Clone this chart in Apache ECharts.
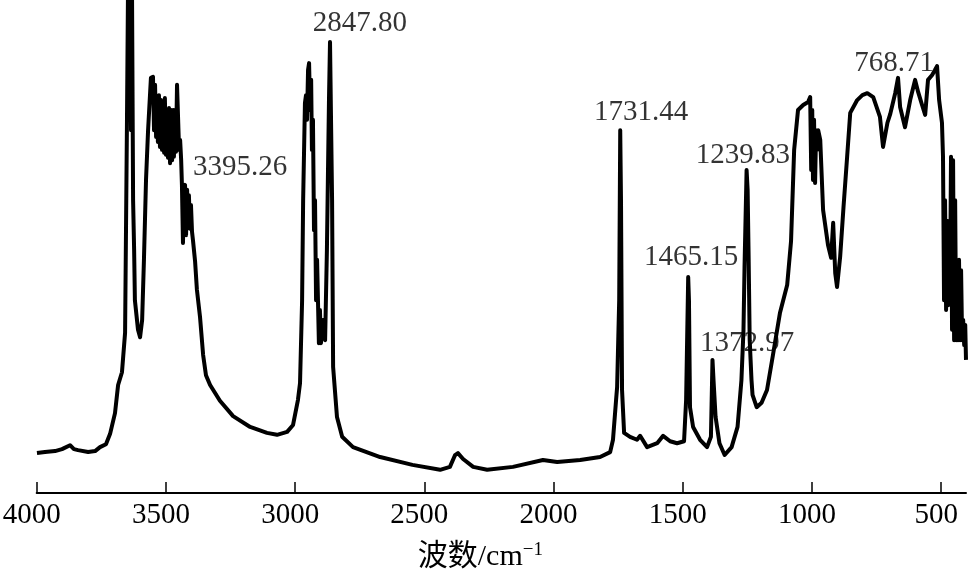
<!DOCTYPE html>
<html>
<head>
<meta charset="utf-8">
<script src="https://cdn.jsdelivr.net/npm/echarts@6/dist/echarts.min.js"></script>
<style>html,body{margin:0;padding:0;background:#fff;}#c{width:968px;height:574px;}</style>
</head>
<body>
<div id="c"></div>
<script>
// IR spectrum: [wavenumber cm^-1, relative signal]
const spectrum = [
[3999,8.1],[3968,8.3],[3929,8.5],[3902,8.9],[3871,9.7],[3856,8.9],[3840,8.7],[3801,8.3],[3774,8.5],[3755,9.3],
[3732,9.9],[3716,12.0],[3697,16.2],[3685,21.9],[3670,24.5],[3658,32.5],[3651,73.6],[3647,100],[3643,75.7],[3639,100],
[3635,73.6],[3631,100],[3627,59.4],[3623,49.3],[3620,39.1],[3608,33.1],[3600,31.6],[3592,35.1],[3585,47.3],[3577,63.5],
[3569,73.6],[3558,84.2],[3550,84.4],[3546,73.6],[3542,82.8],[3538,72.2],[3534,79.7],[3531,71.2],[3527,80.7],[3523,70.2],
[3519,79.7],[3515,69.6],[3511,79.1],[3507,69.0],[3504,80.1],[3500,68.6],[3496,77.7],[3492,68.0],[3488,78.1],[3484,66.9],
[3480,77.7],[3476,67.5],[3472,77.7],[3469,68.2],[3465,77.7],[3461,69.2],[3457,82.8],[3453,82.8],[3449,69.6],[3445,71.6],
[3441,67.5],[3438,62.5],[3434,50.7],[3430,61.5],[3426,62.5],[3422,52.3],[3418,61.5],[3414,54.2],[3411,60.4],[3407,53.6],
[3403,58.4],[3399,53.0],[3395,51.1],[3387,46.9],[3380,41.2],[3368,35.7],[3356,28.0],[3345,23.9],[3329,21.9],[3291,18.7],
[3240,15.6],[3174,13.4],[3109,12.2],[3070,11.8],[3031,12.4],[3008,13.8],[2989,18.9],[2981,22.3],[2973,39.1],[2969,59.4],
[2962,79.1],[2958,80.7],[2954,75.7],[2950,85.8],[2946,87.2],[2942,77.7],[2938,83.8],[2935,69.6],[2931,75.7],[2927,53.3],
[2923,59.4],[2919,39.1],[2915,47.3],[2908,30.4],[2904,37.1],[2900,30.4],[2892,35.1],[2884,31.0],[2877,49.3],[2869,79.7],
[2865,91.5],[2861,91.5],[2857,59.4],[2853,25.6],[2838,15.4],[2818,11.4],[2776,9.3],[2671,7.3],[2546,5.7],[2439,4.7],
[2401,5.3],[2381,7.7],[2370,8.1],[2350,6.9],[2311,5.3],[2257,4.7],[2157,5.3],[2041,6.7],[1986,6.3],[1897,6.7],
[1820,7.3],[1781,8.3],[1770,10.8],[1758,18.9],[1754,21.5],[1746,39.1],[1742,73.6],[1739,59.4],[1735,20.9],[1727,12.2],
[1704,11.4],[1677,10.8],[1665,11.6],[1638,9.3],[1599,10.1],[1576,11.6],[1549,10.5],[1522,10.1],[1495,10.5],[1487,18.9],
[1479,43.8],[1476,39.1],[1472,17.4],[1460,13.4],[1433,10.8],[1406,9.3],[1391,11.4],[1385,27.0],[1381,22.9],[1373,15.4],
[1358,10.1],[1338,7.7],[1311,9.3],[1288,13.4],[1273,22.9],[1265,33.1],[1261,45.8],[1253,65.5],[1249,61.5],[1245,47.3],
[1241,31.0],[1234,22.9],[1230,19.9],[1214,17.4],[1195,18.3],[1174,20.9],[1151,28.0],[1124,36.5],[1096,42.2],[1081,51.1],
[1069,69.6],[1054,77.7],[1034,78.7],[1015,79.3],[1007,80.3],[1003,65.5],[999,77.7],[996,63.5],[992,75.7],[988,62.9],
[984,73.6],[980,69.6],[976,73.6],[968,71.6],[957,57.4],[938,50.3],[926,47.7],[918,54.8],[910,44.6],[903,41.8],
[891,47.9],[878,58.0],[864,68.2],[852,77.1],[825,79.7],[805,80.7],[786,81.1],[763,80.3],[737,76.3],[725,70.2],
[708,75.1],[697,76.9],[678,81.1],[667,84.2],[659,78.3],[640,74.2],[620,79.7],[601,83.8],[589,81.3],[574,78.7],
[562,76.7],[551,83.8],[535,84.8],[524,85.8],[516,86.6],[508,79.7],[497,75.1],[493,68.2],[489,39.1],[485,59.4],
[481,37.1],[477,55.2],[473,38.1],[469,47.3],[466,39.1],[462,68.2],[458,33.1],[454,67.5],[450,31.0],[446,59.4],
[442,31.0],[438,39.1],[435,31.0],[431,47.3],[427,31.0],[423,45.2],[419,31.0],[415,35.1],[411,30.0],[407,34.1],
[404,27.0]
];

// Peak annotations: text and where the text sits (wavenumber, signal)
const peakLabels = ['3395.26','2847.80','1731.44','1239.83','1465.15','1372.97','768.71'];
const labelWn = [3213,2749,1661,1267,1468,1251,682];
const labelVal = [66.1,95.3,77.3,68.4,47.7,30.4,87.2];

// Axis ticks
const tickValues = [4000,3500,3000,2500,2000,1500,1000,500];
const xMin = 404, xMax = 4000;

const chart = echarts.init(document.getElementById('c'), null, {renderer:'canvas'});
const serif = '"Liberation Serif","Times New Roman",serif';
chart.setOption({
  animation:false,
  backgroundColor:'#fff',
  grid:{left:36.7, right:2, top:0, bottom:81, containLabel:false, outerBoundsMode:'none'},
  xAxis:{
    type:'value', inverse:true, min:xMin, max:xMax,
    axisLine:{show:true, onZero:false, lineStyle:{color:'#000', width:2}},
    axisTick:{show:true, inside:true, length:11, lineStyle:{color:'#000', width:1.5}, customValues:tickValues},
    axisLabel:{show:true, customValues:tickValues, formatter:v=>String(v), color:'#000', fontFamily:serif, fontSize:29, margin:8, padding:[0,10,0,0], hideOverlap:false, showMinLabel:true, showMaxLabel:true},
    splitLine:{show:false},
    name:'{a|波数/cm}{s|−1}',
    nameLocation:'middle', nameGap:48, nameMoveOverlap:false,
    nameTextStyle:{
      padding:[0,42,0,0],
      rich:{
        a:{fontFamily:'"Liberation Serif","Noto Sans CJK SC",serif', fontSize:30, color:'#000'},
        s:{fontFamily:serif, fontSize:19, color:'#000', verticalAlign:'top', padding:[0,0,14,0]}
      }
    }
  },
  yAxis:{type:'value', min:0, max:100, show:false},
  series:[
    {
      type:'line', symbol:'none', smooth:false,
      data: spectrum,
      lineStyle:{color:'#000', width:4, join:'round'},
      clip:false, z:2
    },
    {
      type:'scatter', symbolSize:0,
      data: peakLabels.map((t,i)=>({value:[labelWn[i], labelVal[i]], name:t})),
      label:{show:true, position:'inside', formatter:p=>p.name, color:'#000', fontFamily:serif, fontSize:29},
      z:3, silent:true
    }
  ]
});
</script>
</body>
</html>
